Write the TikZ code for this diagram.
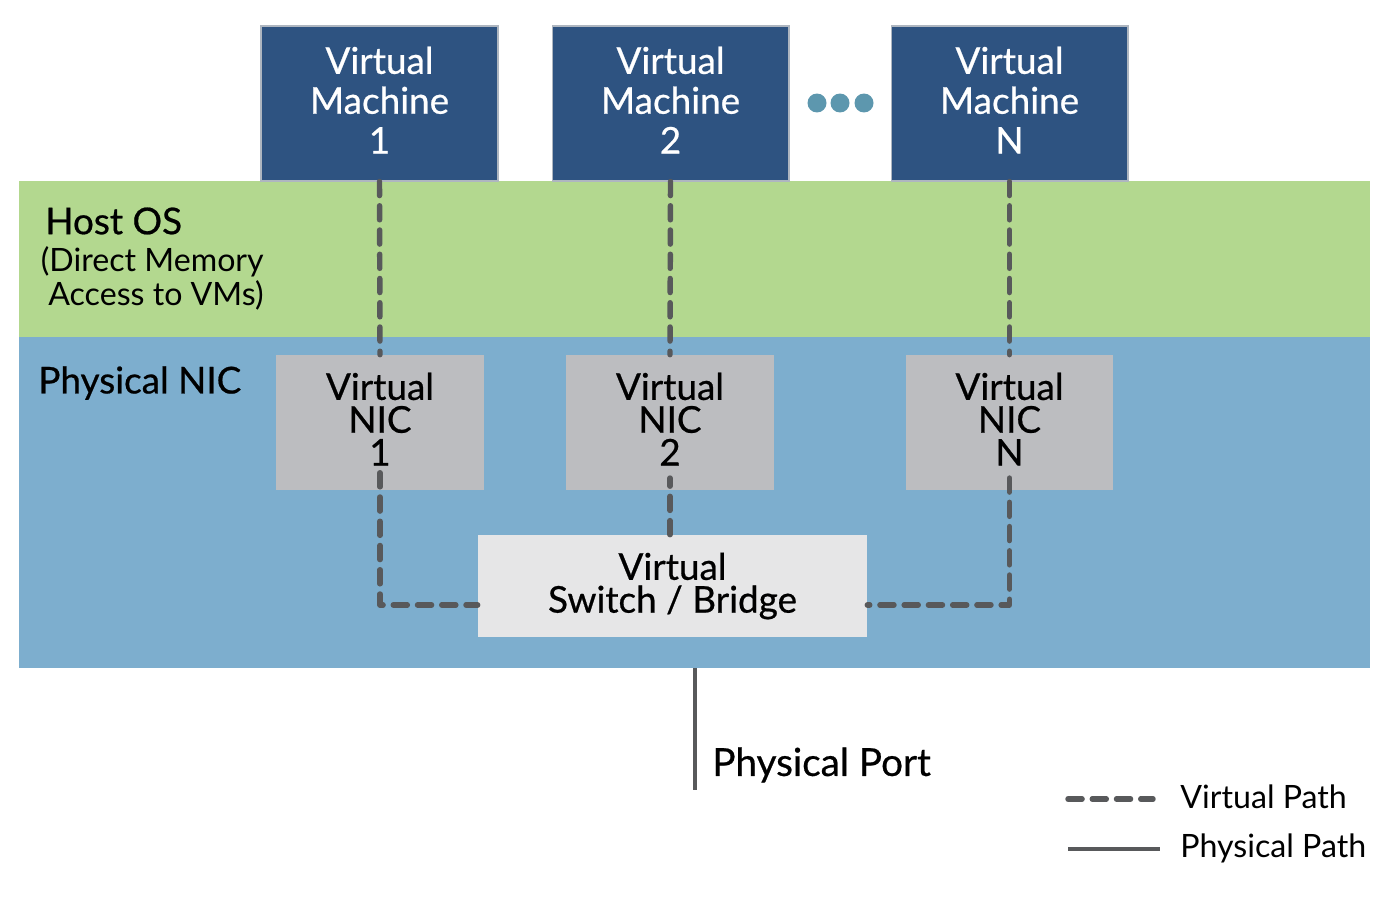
\documentclass[tikz,border=0pt]{standalone}
\usepackage{fontspec}
\setmainfont{Lato}
\newfontfamily\medfont{Lato}[FakeBold=0.6]
\usepackage{tikz}
\usetikzlibrary{positioning}
\definecolor{vmblue}{HTML}{2E5381}
\definecolor{vmedge}{HTML}{AEB6C0}
\definecolor{hostgreen}{HTML}{B3D88F}
\definecolor{nicblue}{HTML}{7DAECE}
\definecolor{nicgray}{HTML}{BCBDC0}
\definecolor{switchgray}{HTML}{E6E6E7}
\definecolor{dotblue}{HTML}{5D97AE}
\definecolor{pathgray}{HTML}{58595B}

\begin{document}
\begin{tikzpicture}[x=0.02cm, y=-0.02cm,
    vpath/.style={draw=pathgray, line width=3.1pt, dash pattern=on 8pt off 5.8pt, line cap=round, line join=round},
    ppath/.style={draw=pathgray, line width=1.8pt},
    bigtext/.style={font=\medfont\fontsize{21}{22.7}\selectfont},
    tighttext/.style={font=\medfont\fontsize{21}{18.7}\selectfont},
    plaintext/.style={font=\fontsize{18.3}{19.3}\selectfont}]
\useasboundingbox (0,0) rectangle (1389,906);

\begin{scope}[every node/.style={inner sep=0pt, outer sep=0pt, minimum width=27.02cm, anchor=north west}]
    \node[fill=hostgreen, minimum height=3.12cm] (hostband) at (19,181) {};
    \node[fill=nicblue, minimum height=6.62cm] (nicband) at (19,337) {};
\end{scope}

\begin{scope}[every node/.style={inner sep=0pt}]
    \node[bigtext, anchor=west] (hostos) at (45,221) {Host OS};
    \node[plaintext, anchor=east, align=right] (hostdma) at (264,278) {(Direct Memory\\Access to VMs)};
    \node[bigtext, anchor=west] (niclabel) at (38,383) {Physical NIC};
\end{scope}

\begin{scope}[every node/.style={fill=vmblue, draw=vmedge, line width=0.6pt, text=white, inner sep=0pt,
              minimum width=4.74cm, minimum height=3.1cm, align=center, bigtext}]
    \node (vm1) at (379.5,103.5) {Virtual\\Machine\\1\vphantom{g}};
    \node (vm2) at (670.5,103.5) {Virtual\\Machine\\2\vphantom{g}};
    \node (vmn) at (1009.5,103.5) {Virtual\\Machine\\N\vphantom{g}};
\end{scope}

\foreach \x in {817,840,864}
    \fill[dotblue] (\x,103) circle (0.19cm);

\begin{scope}[every node/.style={fill=nicgray, inner sep=0pt, minimum width=4.16cm, minimum height=2.7cm,
              align=center, tighttext}]
    \node (nic1) at (380,422.5) {Virtual\\NIC\\1\vphantom{g}};
    \node (nic2) at (670,422.5) {Virtual\\NIC\\2\vphantom{g}};
    \node (nicn) at (1009.5,422.5) {Virtual\\NIC\\N\vphantom{g}};
\end{scope}

\node[fill=switchgray, inner sep=0pt, minimum width=7.78cm, minimum height=2.04cm,
      align=center, tighttext] (switch) at (672.5,586) {Virtual\\Switch / Bridge};

\begin{scope}[every edge/.style={vpath}]
    \path [-] (vm1.south) edge (nic1.north);
    \path [-] (vm2.south) edge (nic2.north);
    \path [-] (vmn.south) edge (nicn.north);
    \path [-] (nic2.south |- switch.north) edge ([yshift=7pt]nic2.south);
\end{scope}
\draw[vpath] ([yshift=10pt]nic1.south) |- ([yshift=-10.8pt]switch.west);
\draw[vpath] ([yshift=7pt]nicn.south) |- ([yshift=-10.8pt]switch.east);

\coordinate (port) at (695,790);
\draw[ppath] (port |- nicband.south) -- (port);
\node[font=\medfont\fontsize{22}{24}\selectfont, anchor=west, inner sep=0pt] (portlabel) at (712,765) {Physical Port};

\coordinate (lv1) at (1068,799);
\coordinate (lv2) at (1153,799);
\coordinate (lp1) at (1068,849);
\coordinate (lp2) at (1160,849);
\path [-] (lv1) edge [vpath] (lv2);
\path [-] (lp1) edge [ppath] (lp2);
\begin{scope}[every node/.style={plaintext, anchor=west, inner sep=0pt}]
    \node (lvtext) at (1180,797) {Virtual Path};
    \node (lptext) at (1180,848) {Physical Path};
\end{scope}

\end{tikzpicture}
\end{document}
